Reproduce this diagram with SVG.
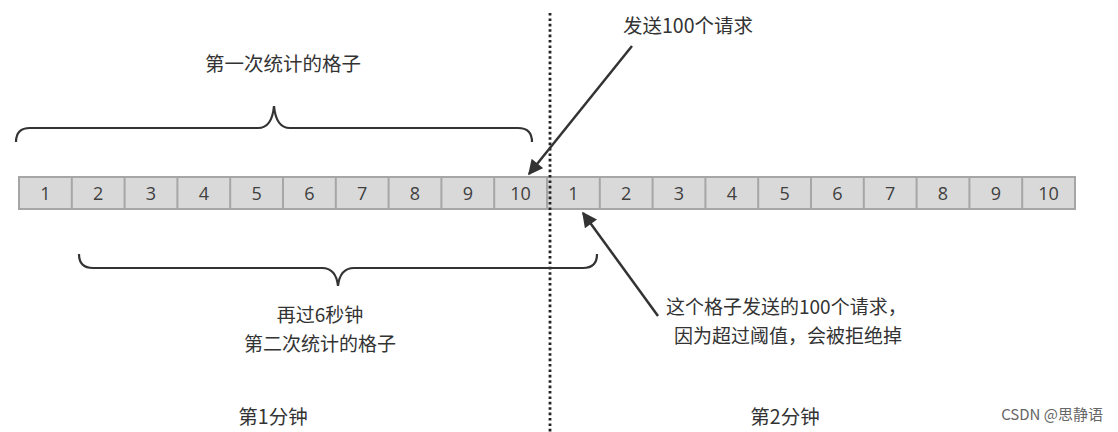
<svg xmlns="http://www.w3.org/2000/svg" width="1118" height="432" viewBox="0 0 1118 432">
<style>
.cell{fill:#d9d9d9;stroke:#a6a6a6;stroke-width:2}
.num{font-family:"Open Sans","Noto Sans",sans-serif;font-size:18px;fill:#404040;text-anchor:middle}
.lbl{font-family:"Noto Sans CJK SC",sans-serif;font-size:19.5px;fill:#333;text-anchor:middle}
.lft{text-anchor:start}
.sm{font-size:19px}
.brace{fill:none;stroke:#333;stroke-width:2.2}
.arr{stroke:#333;stroke-width:2.5;fill:none}
</style>
<defs>
<marker id="ah" viewBox="0 0 10 10" refX="9" refY="5" markerWidth="6.5" markerHeight="6" orient="auto" markerUnits="strokeWidth">
<path d="M0,0 L10,5 L0,10 z" fill="#333"/>
</marker>
</defs>
<rect width="1118" height="432" fill="#fff"/>
<g id="bar">
<rect class="cell" x="19" y="177" width="1056" height="32"/>
<g stroke="#a6a6a6" stroke-width="2">
<line x1="71.8" y1="177" x2="71.8" y2="209"/><line x1="124.6" y1="177" x2="124.6" y2="209"/><line x1="177.4" y1="177" x2="177.4" y2="209"/><line x1="230.2" y1="177" x2="230.2" y2="209"/><line x1="283" y1="177" x2="283" y2="209"/><line x1="335.8" y1="177" x2="335.8" y2="209"/><line x1="388.6" y1="177" x2="388.6" y2="209"/><line x1="441.4" y1="177" x2="441.4" y2="209"/><line x1="494.2" y1="177" x2="494.2" y2="209"/><line x1="547" y1="177" x2="547" y2="209"/><line x1="599.8" y1="177" x2="599.8" y2="209"/><line x1="652.6" y1="177" x2="652.6" y2="209"/><line x1="705.4" y1="177" x2="705.4" y2="209"/><line x1="758.2" y1="177" x2="758.2" y2="209"/><line x1="811" y1="177" x2="811" y2="209"/><line x1="863.8" y1="177" x2="863.8" y2="209"/><line x1="916.6" y1="177" x2="916.6" y2="209"/><line x1="969.4" y1="177" x2="969.4" y2="209"/><line x1="1022.2" y1="177" x2="1022.2" y2="209"/>
</g>
<g class="num">
<text x="45.4" y="200">1</text><text x="98.2" y="200">2</text><text x="151" y="200">3</text><text x="203.8" y="200">4</text><text x="256.6" y="200">5</text><text x="309.4" y="200">6</text><text x="362.2" y="200">7</text><text x="415" y="200">8</text><text x="467.8" y="200">9</text><text x="520.6" y="200">10</text>
<text x="573.4" y="200">1</text><text x="626.2" y="200">2</text><text x="679" y="200">3</text><text x="731.8" y="200">4</text><text x="784.6" y="200">5</text><text x="837.4" y="200">6</text><text x="890.2" y="200">7</text><text x="943" y="200">8</text><text x="995.8" y="200">9</text><text x="1048.6" y="200">10</text>
</g>
</g>
<g id="divider">
<line x1="550" y1="13" x2="550" y2="432" stroke="#222" stroke-width="2.8" stroke-dasharray="2.6 2.8"/>
</g>
<g id="brace-top">
<path class="brace" d="M16,142 Q16,128 30,128 L258,128 Q272,128 274,106 Q276,128 290,128 L518,128 Q532,128 532,142"/>
<text class="lbl" x="283" y="71">第一次统计的格子</text>
</g>
<g id="brace-bottom">
<path class="brace" d="M79,254 Q79,268 93,268 L322,268 Q336,268 338,286 Q340,268 354,268 L583,268 Q597,268 597,254"/>
<text class="lbl sm" x="320" y="322">再过6秒钟</text>
<text class="lbl sm" x="320" y="351">第二次统计的格子</text>
</g>
<g id="connectors">
<line class="arr" x1="632" y1="46" x2="529" y2="174" marker-end="url(#ah)"/>
<line class="arr" x1="658" y1="316" x2="583" y2="213" marker-end="url(#ah)"/>
</g>
<g id="note-top">
<text class="lbl lft" x="623" y="33">发送100个请求</text>
</g>
<g id="note-bottom">
<text class="lbl lft sm" x="666" y="314">这个格子发送的100个请求，</text>
<text class="lbl lft sm" x="674" y="343">因为超过阈值，会被拒绝掉</text>
</g>
<g id="minutes">
<text class="lbl" x="273" y="424">第1分钟</text>
<text class="lbl" x="785" y="424">第2分钟</text>
</g>
<text x="1103" y="420" font-family="'Noto Sans CJK SC',sans-serif" font-size="15" fill="#666" text-anchor="end">CSDN @思静语</text>
</svg>
